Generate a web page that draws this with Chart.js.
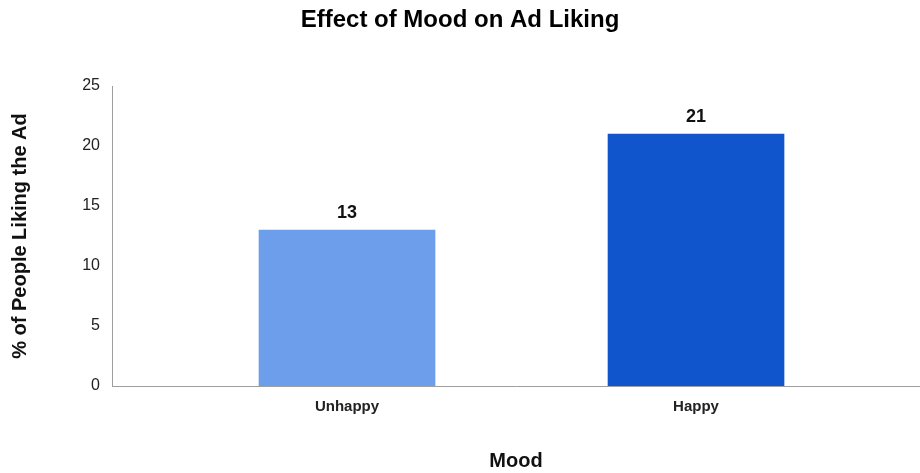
<!DOCTYPE html>
<html>
<head>
<meta charset="utf-8">
<script src="https://cdn.jsdelivr.net/npm/chart.js@4/dist/chart.umd.min.js"></script>
<style>
  html, body { margin: 0; padding: 0; background: #fff; }
  #wrap { width: 920px; height: 473px; position: relative; }
</style>
</head>
<body>
<div id="wrap"><canvas id="c" width="920" height="473"></canvas></div>
<script>
const categories = ['Unhappy', 'Happy'];
const percentLiking = [13, 21];
const barColors = ['#6d9eeb', '#1155cc'];
const yTicks = [0, 5, 10, 15, 20, 25];

const FONT = "'Liberation Sans', Arial, sans-serif";

const valueLabels = {
  id: 'valueLabels',
  afterDatasetsDraw(chart) {
    const ctx = chart.ctx;
    const meta = chart.getDatasetMeta(0);
    ctx.save();
    ctx.font = 'bold 18px ' + FONT;
    ctx.fillStyle = '#111';
    ctx.textAlign = 'center';
    ctx.textBaseline = 'middle';
    meta.data.forEach((el, i) => {
      ctx.fillText(String(percentLiking[i]), el.x, el.y - 17);
    });
    ctx.restore();
  }
};

new Chart(document.getElementById('c'), {
  type: 'bar',
  data: {
    datasets: [{
      data: categories.map((c, i) => ({ x: i, y: percentLiking[i] })),
      backgroundColor: barColors,
      borderWidth: 0,
      barThickness: 176
    }]
  },
  options: {
    responsive: false,
    animation: false,
    events: [],
    layout: { padding: 0 },
    plugins: {
      legend: { display: false },
      tooltip: { enabled: false },
      title: {
        display: true,
        text: 'Effect of Mood on Ad Liking',
        color: '#000',
        font: { family: FONT, size: 24, weight: 'bold', lineHeight: 1.2 },
        padding: { top: 5.6, bottom: 51.6 }
      }
    },
    scales: {
      x: {
        type: 'linear',
        offset: false,
        min: -0.6734,
        max: 1.6418,
        afterBuildTicks: (scale) => { scale.ticks = categories.map((c, i) => ({ value: i })); },
        afterFit: (scale) => { scale.height = 87; },
        grid: { display: false, drawTicks: false, offset: false },
        border: { display: true, color: '#9e9e9e', width: 1 },
        ticks: {
          callback: (v) => categories[v],
          color: '#222',
          font: { family: FONT, size: 15, weight: 'bold' },
          padding: 12,
          maxRotation: 0,
          autoSkip: false
        },
        title: {
          display: true,
          text: 'Mood',
          color: '#111',
          font: { family: FONT, size: 20, weight: 'bold', lineHeight: 1.2 },
          padding: { top: 0, bottom: 0 }
        }
      },
      y: {
        min: 0,
        max: 25,
        afterBuildTicks: (scale) => { scale.ticks = yTicks.map(v => ({ value: v })); },
        afterFit: (scale) => { scale.width = 112; },
        grid: { display: false, drawTicks: false },
        border: { display: true, color: '#9e9e9e', width: 1 },
        ticks: {
          color: '#222',
          font: { family: FONT, size: 16 },
          padding: 12
        },
        title: {
          display: true,
          text: '% of People Liking the Ad',
          color: '#111',
          font: { family: FONT, size: 20, weight: 'bold', lineHeight: 1.2 },
          padding: { top: 8, bottom: 0 }
        }
      }
    }
  },
  plugins: [valueLabels]
});
</script>
</body>
</html>
